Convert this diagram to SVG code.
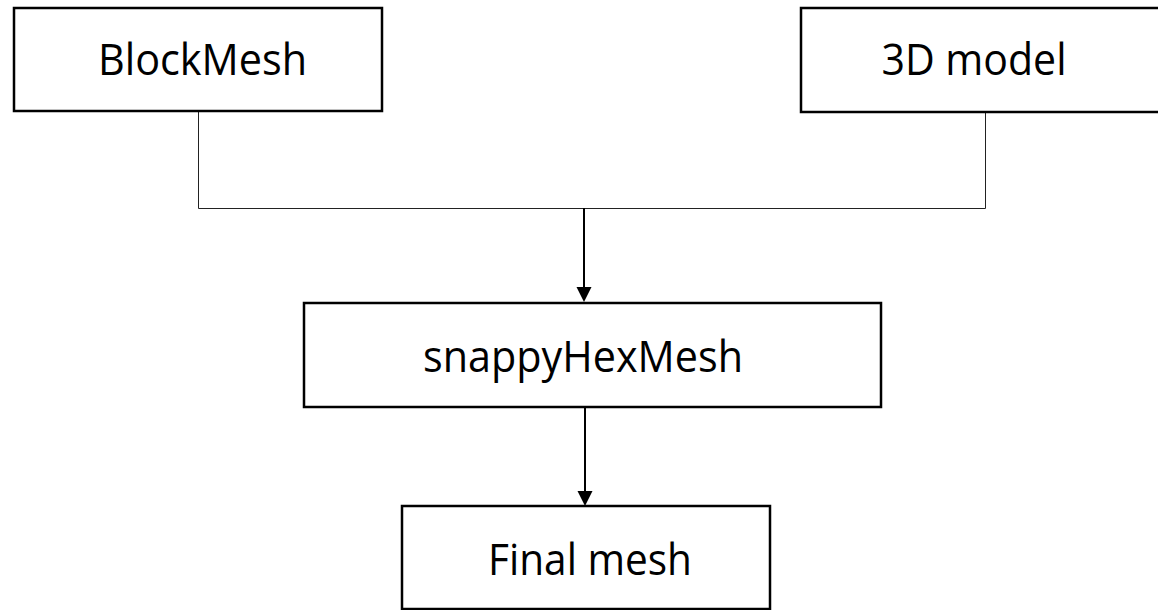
<svg xmlns="http://www.w3.org/2000/svg" width="1158" height="610" viewBox="0 0 1158 610">
<style>
.box{fill:#fff;stroke:#000;stroke-width:2.5}
.lbl{font-family:"Open Sans","Liberation Sans",sans-serif;font-size:43px;fill:#000;text-anchor:middle}
.thin{fill:none;stroke:#222;stroke-width:1}
.arr{stroke:#000;stroke-width:2}
.head{fill:#000}
</style>
<g id="connectors">
<polyline class="thin" points="198.5,111 198.5,208.5 985.5,208.5 985.5,112"/>
<line class="arr" x1="584" y1="208" x2="584" y2="288"/>
<path class="head" d="M576.5,287 L591.5,287 L584,302 Z"/>
<line class="arr" x1="585" y1="408" x2="585" y2="492"/>
<path class="head" d="M577.5,491 L592.5,491 L585,506 Z"/>
</g>
<g id="blockmesh">
<rect class="box" x="14" y="8" width="368" height="103"/>
<text class="lbl" x="202.5" y="75" textLength="209" lengthAdjust="spacingAndGlyphs">BlockMesh</text>
</g>
<g id="model3d">
<rect class="box" x="801" y="8" width="370" height="104"/>
<text class="lbl" x="974" y="75" textLength="185" lengthAdjust="spacingAndGlyphs">3D model</text>
</g>
<g id="snappy">
<rect class="box" x="304" y="303" width="577" height="104"/>
<text class="lbl" x="583" y="372" textLength="320" lengthAdjust="spacingAndGlyphs">snappyHexMesh</text>
</g>
<g id="finalmesh">
<rect class="box" x="402" y="506" width="368" height="103"/>
<text class="lbl" x="590" y="575" textLength="204" lengthAdjust="spacingAndGlyphs">Final mesh</text>
</g>
</svg>
